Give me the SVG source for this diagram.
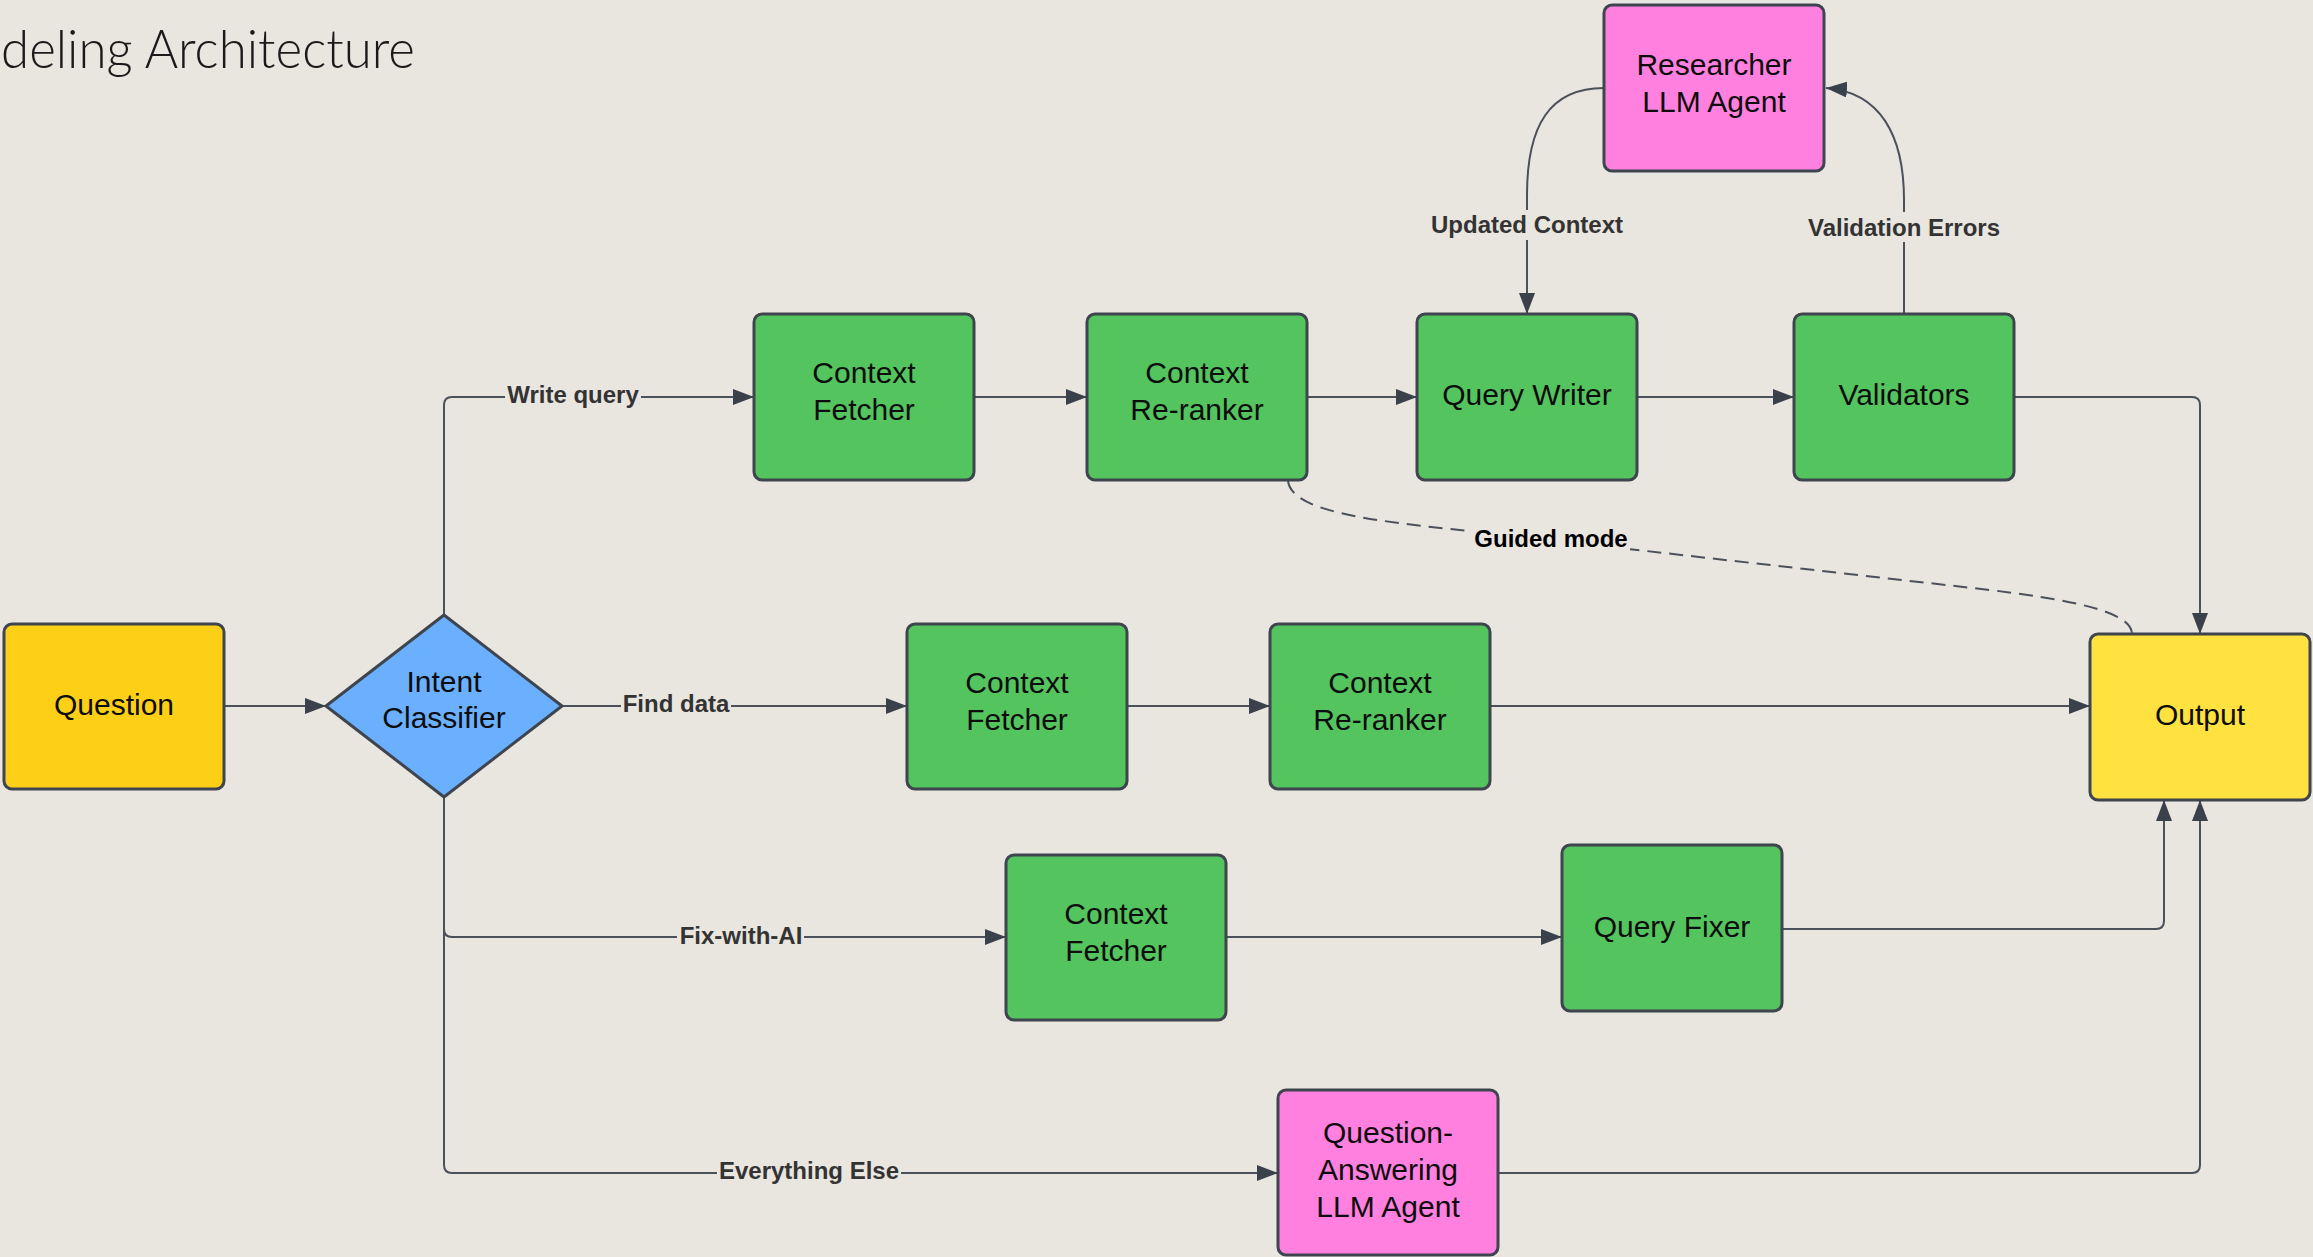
<svg xmlns="http://www.w3.org/2000/svg" width="2313" height="1257" viewBox="0 0 2313 1257">
<defs>
<style>
.bg{fill:#E9E5DF}
.node{stroke:#3E454E;stroke-width:3}
.green{fill:#54C45F}
.pink{fill:#FF80DE}
.qyel{fill:#FDD017}
.oyel{fill:#FFE13F}
.blue{fill:#6BB0FF}
.nt{font-family:"Liberation Sans",Arial,sans-serif;font-size:30px;fill:#0d0d0d;text-anchor:middle}
.conn{fill:none;stroke:#4A515A;stroke-width:2}
.dash{fill:none;stroke:#4A515A;stroke-width:2;stroke-dasharray:14 8}
.lbl{font-family:"Liberation Sans",Arial,sans-serif;font-size:24px;font-weight:bold;fill:#333333;text-anchor:middle}
.lblk{fill:#000000}
.title{font-family:Lato,"Open Sans",sans-serif;font-weight:300;font-size:54px;fill:#1a1a1a}
</style>
<marker id="arr" markerUnits="userSpaceOnUse" markerWidth="22" markerHeight="16" refX="21" refY="8" orient="auto">
<path d="M0,0 L21,8 L0,16 z" fill="#3A414B"/>
</marker>
</defs>
<rect class="bg" x="0" y="0" width="2313" height="1257"/>
<text class="title" x="1" y="68" textLength="414" lengthAdjust="spacingAndGlyphs">deling Architecture</text>

<g id="connectors">
<path class="conn" d="M224,706 L326,706" marker-end="url(#arr)"/>
<path class="conn" d="M444,615 L444,405 Q444,397 452,397 L754,397" marker-end="url(#arr)"/>
<path class="conn" d="M562,706 L907,706" marker-end="url(#arr)"/>
<path class="conn" d="M444,797 L444,929 Q444,937 452,937 L1006,937" marker-end="url(#arr)"/>
<path class="conn" d="M444,797 L444,1165 Q444,1173 452,1173 L1278,1173" marker-end="url(#arr)"/>
<path class="conn" d="M974,397 L1087,397" marker-end="url(#arr)"/>
<path class="conn" d="M1307,397 L1417,397" marker-end="url(#arr)"/>
<path class="conn" d="M1637,397 L1794,397" marker-end="url(#arr)"/>
<path class="conn" d="M2014,397 L2192,397 Q2200,397 2200,405 L2200,634" marker-end="url(#arr)"/>
<path class="conn" d="M1904,314 L1904,200 C1904,135 1880,92 1826,88" marker-end="url(#arr)"/>
<path class="conn" d="M1604,88 C1550,88 1527,125 1527,195 L1527,314" marker-end="url(#arr)"/>
<path class="dash" d="M1288,481 C1292,510 1360,520 1470,531 L1990,590 C2090,602 2132,615 2132,634"/>
<path class="conn" d="M1127,706 L1270,706" marker-end="url(#arr)"/>
<path class="conn" d="M1490,706 L2090,706" marker-end="url(#arr)"/>
<path class="conn" d="M1226,937 L1562,937" marker-end="url(#arr)"/>
<path class="conn" d="M1782,929 L2156,929 Q2164,929 2164,921 L2164,800" marker-end="url(#arr)"/>
<path class="conn" d="M1498,1173 L2192,1173 Q2200,1173 2200,1165 L2200,800" marker-end="url(#arr)"/>
<g id="connector-labels">
<rect class="bg" x="505" y="383" width="136" height="26"/>
<text class="lbl" x="573" y="403">Write query</text>
<rect class="bg" x="621" y="692" width="110" height="26"/>
<text class="lbl" x="676" y="712">Find data</text>
<rect class="bg" x="677" y="924" width="127" height="26"/>
<text class="lbl" x="741" y="944">Fix-with-AI</text>
<rect class="bg" x="717" y="1159" width="184" height="26"/>
<text class="lbl" x="809" y="1179">Everything Else</text>
<rect class="bg" x="1428" y="210" width="198" height="30"/>
<text class="lbl" x="1527" y="233">Updated Context</text>
<rect class="bg" x="1806" y="212" width="196" height="30"/>
<text class="lbl" x="1904" y="236">Validation Errors</text>
<rect class="bg" x="1472" y="524" width="158" height="30"/>
<text class="lbl lblk" x="1551" y="547">Guided mode</text>
</g>
</g>

<g id="question">
<rect class="node qyel" x="4" y="624" width="220" height="165" rx="8"/>
<text class="nt" x="114" y="715">Question</text>
</g>
<g id="intent-classifier">
<polygon class="node blue" points="444,615 562,706 444,797 326,706" stroke-linejoin="round"/>
<text class="nt" x="444" y="692">Intent</text>
<text class="nt" x="444" y="728">Classifier</text>
</g>
<g id="context-fetcher-1">
<rect class="node green" x="754" y="314" width="220" height="166" rx="8"/>
<text class="nt" x="864" y="383">Context</text>
<text class="nt" x="864" y="420">Fetcher</text>
</g>
<g id="context-reranker-1">
<rect class="node green" x="1087" y="314" width="220" height="166" rx="8"/>
<text class="nt" x="1197" y="383">Context</text>
<text class="nt" x="1197" y="420">Re-ranker</text>
</g>
<g id="query-writer">
<rect class="node green" x="1417" y="314" width="220" height="166" rx="8"/>
<text class="nt" x="1527" y="405">Query Writer</text>
</g>
<g id="validators">
<rect class="node green" x="1794" y="314" width="220" height="166" rx="8"/>
<text class="nt" x="1904" y="405">Validators</text>
</g>
<g id="researcher">
<rect class="node pink" x="1604" y="5" width="220" height="166" rx="8"/>
<text class="nt" x="1714" y="75">Researcher</text>
<text class="nt" x="1714" y="112">LLM Agent</text>
</g>
<g id="context-fetcher-2">
<rect class="node green" x="907" y="624" width="220" height="165" rx="8"/>
<text class="nt" x="1017" y="693">Context</text>
<text class="nt" x="1017" y="730">Fetcher</text>
</g>
<g id="context-reranker-2">
<rect class="node green" x="1270" y="624" width="220" height="165" rx="8"/>
<text class="nt" x="1380" y="693">Context</text>
<text class="nt" x="1380" y="730">Re-ranker</text>
</g>
<g id="output">
<rect class="node oyel" x="2090" y="634" width="220" height="166" rx="8"/>
<text class="nt" x="2200" y="725">Output</text>
</g>
<g id="context-fetcher-3">
<rect class="node green" x="1006" y="855" width="220" height="165" rx="8"/>
<text class="nt" x="1116" y="924">Context</text>
<text class="nt" x="1116" y="961">Fetcher</text>
</g>
<g id="query-fixer">
<rect class="node green" x="1562" y="845" width="220" height="166" rx="8"/>
<text class="nt" x="1672" y="937">Query Fixer</text>
</g>
<g id="qa-agent">
<rect class="node pink" x="1278" y="1090" width="220" height="165" rx="8"/>
<text class="nt" x="1388" y="1143">Question-</text>
<text class="nt" x="1388" y="1180">Answering</text>
<text class="nt" x="1388" y="1217">LLM Agent</text>
</g>
</svg>
